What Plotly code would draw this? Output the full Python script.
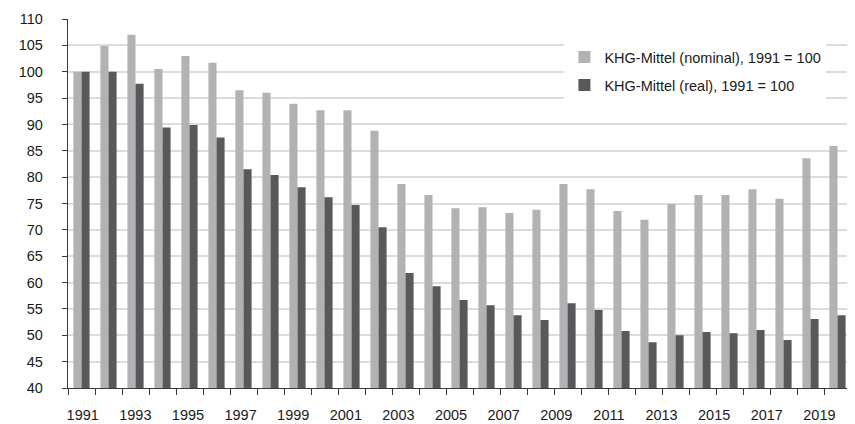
import plotly.graph_objects as go

years = [1991, 1992, 1993, 1994, 1995, 1996, 1997, 1998, 1999, 2000,
         2001, 2002, 2003, 2004, 2005, 2006, 2007, 2008, 2009, 2010,
         2011, 2012, 2013, 2014, 2015, 2016, 2017, 2018, 2019]

nominal = [100.0, 104.9, 107.0, 100.5, 103.0, 101.7, 96.5, 96.0, 93.9, 92.7,
           92.7, 88.8, 78.7, 76.6, 74.1, 74.3, 73.2, 73.8, 78.7, 77.7,
           73.6, 71.9, 74.9, 76.6, 76.6, 77.7, 75.9, 83.6, 85.9]

real = [100.0, 100.0, 97.7, 89.4, 89.9, 87.5, 81.5, 80.4, 78.1, 76.2,
        74.7, 70.5, 61.8, 59.3, 56.7, 55.7, 53.8, 52.9, 56.1, 54.8,
        50.8, 48.7, 50.0, 50.6, 50.4, 51.0, 49.1, 53.1, 53.8]

label_years = [1991, 1993, 1995, 1997, 1999, 2001, 2003, 2005, 2007, 2009,
               2011, 2013, 2015, 2017, 2019]
label_text = ["1991", "1993", "1995", "1997", "1999", "2001", "2003", "2005",
              "2007", "2009", "2011", "2013", "2015", "2017", "2019"]

name_nom = "KHG-Mittel (nominal), 1991 = 100"
name_real = "KHG-Mittel (real), 1991 = 100"

FONT = "Liberation Sans, Arial, sans-serif"
TXT = "#1a1a1a"
AXC = "#3a3a3a"
FS = 14.5

fig = go.Figure()
fig.add_trace(go.Bar(x=years, y=nominal, name=name_nom, legendgroup="a",
                     marker=dict(color="#b1b2b4", line=dict(width=0))))
fig.add_trace(go.Bar(x=years, y=real, name=name_real, legendgroup="b",
                     marker=dict(color="#59595b", line=dict(width=0))))
# invisible helper trace so the label axis is drawn
fig.add_trace(go.Scatter(x=label_years, y=[None] * len(label_years), xaxis="x2",
                         showlegend=False, hoverinfo="skip", mode="markers"))

fig.update_layout(
    width=855, height=424,
    margin=dict(l=60, r=12, t=11, b=44, autoexpand=False),
    paper_bgcolor="white", plot_bgcolor="white",
    font=dict(family=FONT, size=FS, color=TXT),
    barmode="group", bargap=0.4, bargroupgap=0,
    showlegend=True,
    legend=dict(x=0.634, y=0.94, xanchor="left", yanchor="top",
                bgcolor="white", borderwidth=0, tracegroupgap=6,
                font=dict(family=FONT, size=FS, color=TXT)),
    xaxis=dict(type="linear", range=[1990.5, 2019.5],
               tickmode="linear", tick0=1990.5, dtick=1,
               ticks="outside", ticklen=6, tickwidth=1, tickcolor=AXC,
               showticklabels=False, showgrid=False, zeroline=False,
               showline=True, linecolor=AXC, linewidth=1.3, automargin=False),
    xaxis2=dict(type="linear", overlaying="x", anchor="y", side="bottom",
                range=[1990.441, 2020.201],
                tickmode="array", tickvals=label_years, ticktext=label_text,
                ticks="", showgrid=False, zeroline=False, showline=False,
                ticklabelstandoff=16, automargin=False,
                tickfont=dict(family=FONT, size=FS, color=TXT)),
    yaxis=dict(range=[40, 110], tickmode="linear", tick0=40, dtick=5,
               ticks="outside", ticklen=5, tickwidth=1, tickcolor=AXC,
               showgrid=True, gridcolor="#dcdcdc", gridwidth=1.5,
               zeroline=False, showline=True, linecolor=AXC, linewidth=1.3,
               ticklabelstandoff=16, automargin=False,
               tickfont=dict(family=FONT, size=FS, color=TXT)),
)

fig.write_html("out.html")
